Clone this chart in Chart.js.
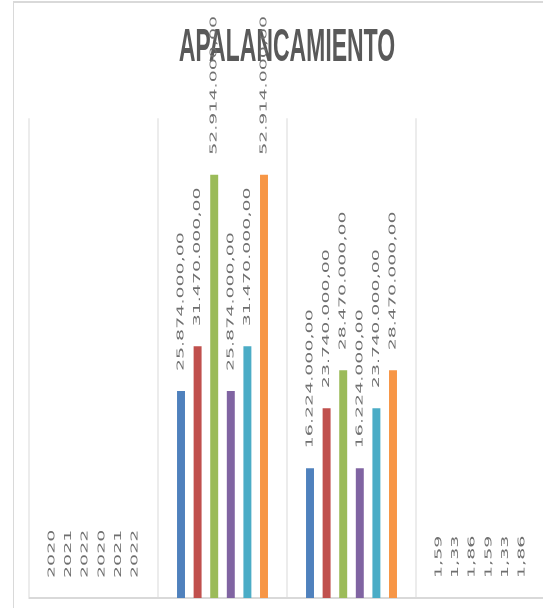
<!DOCTYPE html>
<html>
<head>
<meta charset="utf-8">
<script src="https://cdn.jsdelivr.net/npm/chart.js@4.4.1/dist/chart.umd.min.js"></script>
<style>
  html, body { margin: 0; padding: 0; background: #ffffff; overflow: hidden; }
  #frame { width: 543px; height: 608px; overflow: hidden; position: relative; }
  #stretch { width: 1120px; height: 608px; transform: scaleX(0.5); transform-origin: 0 0; }
  #c { display: block; }
</style>
</head>
<body>
<div id="frame"><div id="stretch"><canvas id="c" width="1120" height="608" style="width:1120px;height:608px"></canvas></div></div>
<script>
// Categories of the leverage table (axis labels are not shown on the chart)
const categories = ['AÑO', 'PASIVO TOTAL', 'PATRIMONIO', 'APALANCAMIENTO'];

// One value per category for each series
const serie1 = [2020, 25874000, 16224000, 1.59];
const serie2 = [2021, 31470000, 23740000, 1.33];
const serie3 = [2022, 52914000, 28470000, 1.86];
const serie4 = [2020, 25874000, 16224000, 1.59];
const serie5 = [2021, 31470000, 23740000, 1.33];
const serie6 = [2022, 52914000, 28470000, 1.86];

const seriesNames = ['Serie1', 'Serie2', 'Serie3', 'Serie4', 'Serie5', 'Serie6'];
const seriesData = [serie1, serie2, serie3, serie4, serie5, serie6];
const seriesColors = ['#4F81BD', '#C0504D', '#9BBB59', '#8064A2', '#4BACC6', '#F79646'];

const yMin = 0;
const yMax = 60000000;

// Spanish number format: thousands with '.', decimals with ','
function formatEs(value, decimals) {
  const fixed = Math.abs(value).toFixed(decimals);
  const parts = fixed.split('.');
  const intPart = parts[0].replace(/\B(?=(\d{3})+(?!\d))/g, '.');
  const sign = value < 0 ? '-' : '';
  return sign + intPart + (decimals > 0 ? ',' + parts[1] : '');
}
function labelFor(categoryIndex, value) {
  // the year row is printed as a plain integer
  return categoryIndex === 0 ? String(value) : formatEs(value, 2);
}

// Thin outer frame of the chart area
const framePlugin = {
  id: 'frame',
  beforeDraw(chart) {
    const ctx = chart.ctx;
    ctx.save();
    ctx.strokeStyle = '#d9d9d9';
    ctx.lineWidth = 2;
    ctx.beginPath();
    ctx.moveTo(27, 608);
    ctx.lineTo(27, 2);
    ctx.lineTo(chart.width, 2);
    ctx.stroke();
    ctx.restore();
  }
};

// Vertical value labels above each bar
const barLabelPlugin = {
  id: 'barLabels',
  afterDatasetsDraw(chart) {
    const ctx = chart.ctx;
    ctx.save();
    ctx.font = '19px "DejaVu Sans"';
    ctx.fillStyle = '#6f6f6f';
    ctx.textAlign = 'left';
    ctx.textBaseline = 'middle';
    chart.data.datasets.forEach((ds, di) => {
      const meta = chart.getDatasetMeta(di);
      meta.data.forEach((bar, i) => {
        const text = labelFor(i, ds.data[i]);
        ctx.save();
        ctx.translate(bar.x, bar.y - 20);
        ctx.rotate(-Math.PI / 2);
        ctx.fillText(text, 0, 0);
        ctx.restore();
      });
    });
    ctx.restore();
  }
};

new Chart(document.getElementById('c'), {
  type: 'bar',
  data: {
    labels: categories,
    datasets: seriesData.map((values, k) => ({
      label: seriesNames[k],
      data: values,
      backgroundColor: seriesColors[k],
      borderWidth: 0,
      categoryPercentage: 0.772,
      barPercentage: 0.48
    }))
  },
  options: {
    responsive: false,
    animation: false,
    devicePixelRatio: 1,
    layout: { padding: { left: 58, right: 30, top: 0, bottom: 10 } },
    plugins: {
      legend: { display: false },
      tooltip: { enabled: false },
      title: {
        display: true,
        text: 'APALANCAMIENTO',
        color: '#595959',
        font: { family: '"Liberation Sans", Arial, sans-serif', size: 46, weight: 'bold', lineHeight: 1.2 },
        padding: { top: 21, bottom: 42 }
      }
    },
    scales: {
      x: {
        display: true,
        ticks: { display: false },
        grid: { display: true, offset: true, color: '#d9d9d9', lineWidth: 2, drawTicks: false },
        border: { display: true, color: '#d9d9d9', width: 2 }
      },
      y: {
        display: false,
        min: yMin,
        max: yMax
      }
    }
  },
  plugins: [framePlugin, barLabelPlugin]
});
</script>
</body>
</html>
